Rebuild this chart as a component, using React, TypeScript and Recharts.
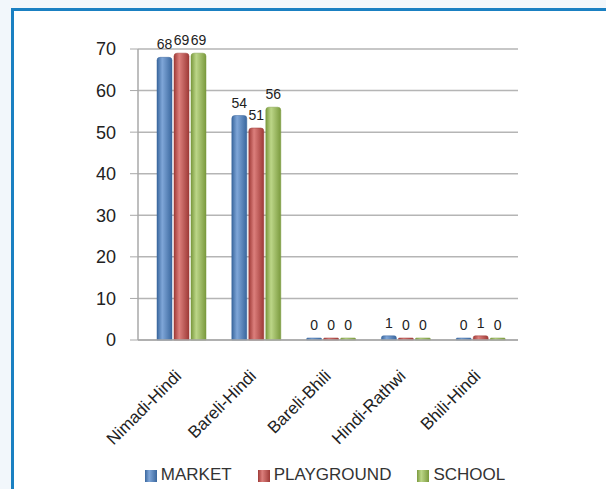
import { Bar, BarChart, CartesianGrid, LabelList, Legend, XAxis, YAxis } from 'recharts';

const categories = ['Nimadi-Hindi', 'Bareli-Hindi', 'Bareli-Bhili', 'Hindi-Rathwi', 'Bhili-Hindi'];
const market = [68, 54, 0, 1, 0];
const playground = [69, 51, 0, 0, 1];
const school = [69, 56, 0, 0, 0];
const yTicks = [0, 10, 20, 30, 40, 50, 60, 70];

const data = categories.map((name, i) => ({
  name,
  market: market[i],
  playground: playground[i],
  school: school[i],
}));

const FONT = '"Liberation Sans", Arial, sans-serif';

const series = [
  { key: 'market', label: 'MARKET', color: '#4F81BD', light: '#7fa6d8', dark: '#3a679e' },
  { key: 'playground', label: 'PLAYGROUND', color: '#C0504D', light: '#dc7f7c', dark: '#9e3a37' },
  { key: 'school', label: 'SCHOOL', color: '#9BBB59', light: '#bcd688', dark: '#7b9a3e' },
];

function CategoryTick(props: any) {
  const { x, y, payload } = props;
  const tx = x + 1;
  const ty = y + 29;
  return (
    <text
      x={tx}
      y={ty}
      transform={`rotate(-45, ${tx}, ${ty})`}
      textAnchor="end"
      fontSize={17}
      fontFamily={FONT}
      fill="#222"
    >
      {payload.value}
    </text>
  );
}

export default function App() {
  return (
    <div
      style={{
        position: 'absolute',
        left: 0,
        top: 0,
        width: 606,
        height: 489,
        background: '#f2f7fb',
        overflow: 'hidden',
      }}
    >
      <div
        style={{
          position: 'absolute',
          left: 11,
          top: 8,
          width: 606,
          height: 489,
          background: '#fff',
          borderTop: '3px solid #1a80c2',
          borderLeft: '3px solid #1a80c2',
        }}
      />
      <BarChart
        width={606}
        height={489}
        data={data}
        margin={{ top: 49, right: 88, bottom: 4, left: 80 }}
        barCategoryGap={12}
        barGap={2}
        style={{ position: 'absolute', left: 0, top: 0, fontFamily: FONT }}
      >
        <defs>
          {series.map((s) => (
            <linearGradient key={s.key} id={`g-${s.key}`} x1="0" y1="0" x2="1" y2="0">
              <stop offset="0%" stopColor={s.dark} />
              <stop offset="35%" stopColor={s.light} />
              <stop offset="100%" stopColor={s.dark} />
            </linearGradient>
          ))}
        </defs>
        <CartesianGrid vertical={false} stroke="#b5b5b5" strokeWidth={1.5} />
        <XAxis
          dataKey="name"
          height={125}
          interval={0}
          padding={{ left: 6, right: 0 }}
          tick={<CategoryTick />}
          tickLine={false}
          axisLine={{ stroke: '#a8a8a8', strokeWidth: 1.5 }}
        />
        <YAxis
          width={58}
          domain={[0, 70]}
          ticks={yTicks}
          tickSize={8}
          tickMargin={14}
          tick={{ fontSize: 18, fill: '#222', fontFamily: FONT }}
          tickLine={{ stroke: '#a8a8a8' }}
          axisLine={{ stroke: '#a8a8a8', strokeWidth: 1.5 }}
        />
        <Legend
          verticalAlign="bottom"
          iconType="square"
          iconSize={12}
          wrapperStyle={{ left: 0, width: 676, bottom: 4, fontFamily: FONT }}
          formatter={(value: string) => (
            <span style={{ color: '#333', fontSize: 17, marginRight: 16 }}>{value}</span>
          )}
        />
        {series.map((s) => (
          <Bar
            key={s.key}
            dataKey={s.key}
            name={s.label}
            fill={`url(#g-${s.key})`}
            stroke={s.dark}
            strokeWidth={0.5}
            barSize={15}
            minPointSize={2}
            radius={[3, 3, 0, 0]}
            isAnimationActive={false}
          >
            <LabelList dataKey={s.key} position="top" offset={8} fontSize={14} fill="#222" fontFamily={FONT} />
          </Bar>
        ))}
      </BarChart>
    </div>
  );
}
